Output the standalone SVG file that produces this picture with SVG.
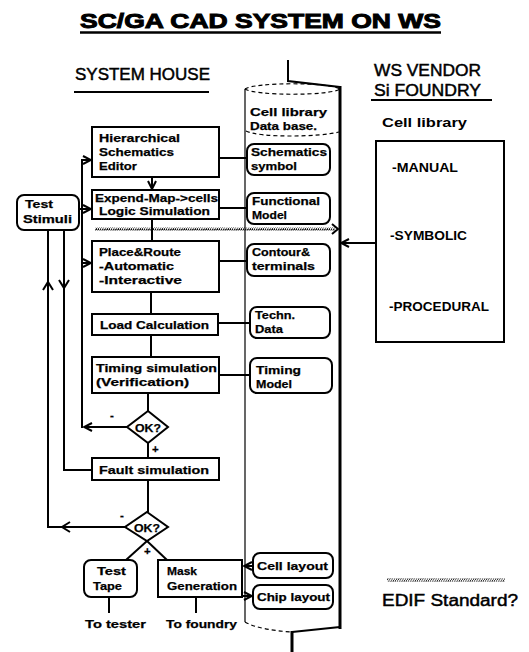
<svg xmlns="http://www.w3.org/2000/svg" width="529" height="652" viewBox="0 0 529 652">
<style>
.box{fill:#fff;stroke:#000;stroke-width:2}
.rbox{fill:#fff;stroke:#000;stroke-width:2}
.ln{fill:none;stroke:#000;stroke-width:2}
.thin{fill:none;stroke:#000;stroke-width:1.2}
.t{font-family:"Liberation Sans",Arial,sans-serif;font-weight:bold;font-size:11.5px;fill:#000;stroke:#000;stroke-width:0.25}
.h{font-family:"Liberation Sans",Arial,sans-serif;font-size:16px;fill:#000;stroke:#000;stroke-width:0.45}
.r{font-family:"Liberation Sans",Arial,sans-serif;font-weight:bold;font-size:13.5px;fill:#000}
</style>
<defs>
<marker id="arr" viewBox="0 0 10 10" refX="9" refY="5" markerWidth="10" markerHeight="10" markerUnits="userSpaceOnUse" orient="auto">
<path d="M1,1 L9,5 L1,9" fill="none" stroke="#000" stroke-width="2"/>
</marker>
<pattern id="hatch" patternUnits="userSpaceOnUse" width="2.2" height="4">
<path d="M-0.5,4.5 L2.7,-0.5" stroke="#000" stroke-width="1"/>
</pattern>
</defs>

<g id="title">
<text x="80" y="28" font-family="'Liberation Sans',Arial,sans-serif" font-weight="bold" font-size="21" textLength="361" lengthAdjust="spacingAndGlyphs" stroke="#000" stroke-width="1">SC/GA CAD SYSTEM ON WS</text>
<line x1="80" y1="32.5" x2="441" y2="32.5" stroke="#000" stroke-width="2.5"/>
</g>

<g id="system-house">
<text class="h" x="75" y="80" textLength="135" lengthAdjust="spacingAndGlyphs">SYSTEM HOUSE</text>
<line x1="74" y1="92" x2="209" y2="92" stroke="#000" stroke-width="2"/>
</g>

<g id="ws-vendor">
<text class="h" x="374" y="76" font-size="17" textLength="107" lengthAdjust="spacingAndGlyphs">WS VENDOR</text>
<text class="h" x="374" y="96" font-size="17" textLength="107" lengthAdjust="spacingAndGlyphs">Si FOUNDRY</text>
<line x1="371" y1="100" x2="492" y2="100" stroke="#000" stroke-width="2"/>
</g>

<g id="cylinder">
<path d="M288,60 V81 L340,87" class="ln" stroke-width="3"/>
<path d="M245,89 C255,82 330,82 340,89" class="thin" stroke-dasharray="4 3"/>
<path d="M245,89 C255,96 330,96 340,89" class="thin" stroke-dasharray="4 3"/>
<line x1="245" y1="89" x2="245" y2="622" class="thin"/>
<line x1="340" y1="86" x2="340" y2="629" stroke="#000" stroke-width="3"/>
<path d="M246,131 C260,138 320,137 339,132" class="thin" stroke-dasharray="4 3"/>
<path d="M245,622 C255,628 275,631 292,632" class="thin" stroke-dasharray="4 3"/>
<path d="M292,632 L340,627" class="ln" stroke-width="2"/>
<line x1="292" y1="631" x2="292" y2="652" stroke="#000" stroke-width="3"/>
<text class="t" x="250" y="116" font-size="11" textLength="77" lengthAdjust="spacingAndGlyphs">Cell library</text>
<text class="t" x="250" y="130" font-size="11" textLength="67" lengthAdjust="spacingAndGlyphs">Data base.</text>
</g>

<g id="schematics-symbol">
<rect class="rbox" x="247" y="144" width="83" height="31" rx="7"/>
<text class="t" x="251" y="156" textLength="76" lengthAdjust="spacingAndGlyphs">Schematics</text>
<text class="t" x="251" y="170" textLength="46" lengthAdjust="spacingAndGlyphs">symbol</text>
</g>
<g id="functional-model">
<rect class="rbox" x="247" y="193" width="83" height="31" rx="7"/>
<text class="t" x="252" y="205" textLength="68" lengthAdjust="spacingAndGlyphs">Functional</text>
<text class="t" x="252" y="219" textLength="35" lengthAdjust="spacingAndGlyphs">Model</text>
</g>
<g id="contour-terminals">
<rect class="rbox" x="247" y="244" width="83" height="32" rx="7"/>
<text class="t" x="252" y="256" textLength="58" lengthAdjust="spacingAndGlyphs">Contour&amp;</text>
<text class="t" x="252" y="270" textLength="63" lengthAdjust="spacingAndGlyphs">terminals</text>
</g>
<g id="techn-data">
<rect class="rbox" x="250" y="307" width="80" height="31" rx="7"/>
<text class="t" x="255" y="319" textLength="40" lengthAdjust="spacingAndGlyphs">Techn.</text>
<text class="t" x="255" y="333" textLength="28" lengthAdjust="spacingAndGlyphs">Data</text>
</g>
<g id="timing-model">
<rect class="rbox" x="250" y="358" width="82" height="35" rx="7"/>
<text class="t" x="256" y="374" textLength="45" lengthAdjust="spacingAndGlyphs">Timing</text>
<text class="t" x="256" y="388" textLength="36" lengthAdjust="spacingAndGlyphs">Model</text>
</g>
<g id="cell-layout">
<rect class="rbox" x="253" y="553" width="80" height="25" rx="7"/>
<text class="t" x="257" y="570" textLength="71" lengthAdjust="spacingAndGlyphs">Cell layout</text>
</g>
<g id="chip-layout">
<rect class="rbox" x="253" y="585" width="80" height="24" rx="7"/>
<text class="t" x="257" y="601" textLength="73" lengthAdjust="spacingAndGlyphs">Chip layout</text>
</g>

<g id="vendor-cell-library">
<text class="r" x="382" y="127" textLength="85" lengthAdjust="spacingAndGlyphs">Cell library</text>
<rect class="box" x="376" y="141" width="128" height="201"/>
<text class="r" x="392" y="172" textLength="66" lengthAdjust="spacingAndGlyphs">-MANUAL</text>
<text class="r" x="390" y="240" textLength="77" lengthAdjust="spacingAndGlyphs">-SYMBOLIC</text>
<text class="r" x="389" y="311" textLength="100" lengthAdjust="spacingAndGlyphs">-PROCEDURAL</text>
</g>

<g id="hierarchical-editor">
<rect class="box" x="92" y="127" width="127" height="50"/>
<text class="t" x="99" y="142" textLength="81" lengthAdjust="spacingAndGlyphs">Hierarchical</text>
<text class="t" x="99" y="156" textLength="75" lengthAdjust="spacingAndGlyphs">Schematics</text>
<text class="t" x="99" y="170" textLength="38" lengthAdjust="spacingAndGlyphs">Editor</text>
</g>
<g id="logic-simulation">
<rect class="box" x="92" y="190" width="127" height="29"/>
<text class="t" x="95" y="202" textLength="123" lengthAdjust="spacingAndGlyphs">Expend-Map-&gt;cells</text>
<text class="t" x="99" y="215" textLength="111" lengthAdjust="spacingAndGlyphs">Logic Simulation</text>
</g>
<g id="test-stimuli">
<rect class="rbox" x="17" y="195" width="62" height="35" rx="7"/>
<text class="t" x="25" y="208" textLength="28" lengthAdjust="spacingAndGlyphs">Test</text>
<text class="t" x="23" y="223" textLength="49" lengthAdjust="spacingAndGlyphs">Stimuli</text>
</g>
<g id="place-route">
<rect class="box" x="92" y="241" width="127" height="51"/>
<text class="t" x="99" y="256" textLength="82" lengthAdjust="spacingAndGlyphs">Place&amp;Route</text>
<text class="t" x="99" y="270" textLength="75" lengthAdjust="spacingAndGlyphs">-Automatic</text>
<text class="t" x="99" y="284" textLength="83" lengthAdjust="spacingAndGlyphs">-Interactive</text>
</g>
<g id="load-calculation">
<rect class="box" x="92" y="314" width="126" height="21"/>
<text class="t" x="100" y="329" textLength="109" lengthAdjust="spacingAndGlyphs">Load Calculation</text>
</g>
<g id="timing-simulation">
<rect class="box" x="92" y="357" width="127" height="36"/>
<text class="t" x="96" y="372" textLength="121" lengthAdjust="spacingAndGlyphs">Timing simulation</text>
<text class="t" x="96" y="386" textLength="93" lengthAdjust="spacingAndGlyphs">(Verification)</text>
</g>
<g id="ok1">
<polygon class="box" points="148,411 168,427 148,443 127,427" stroke-width="2.5"/>
<text class="t" x="148" y="431.5" text-anchor="middle" textLength="26" lengthAdjust="spacingAndGlyphs">OK?</text>
</g>
<g id="fault-simulation">
<rect class="box" x="92" y="458" width="127" height="22"/>
<text class="t" x="99" y="474" textLength="110" lengthAdjust="spacingAndGlyphs">Fault simulation</text>
</g>
<g id="ok2">
<polygon class="box" points="147,512 168,527 147,541 125,527" stroke-width="2.5"/>
<text class="t" x="147" y="531.5" text-anchor="middle" textLength="26" lengthAdjust="spacingAndGlyphs">OK?</text>
</g>
<g id="test-tape">
<rect class="rbox" x="84" y="560" width="53" height="37" rx="7"/>
<text class="t" x="97" y="575" textLength="29" lengthAdjust="spacingAndGlyphs">Test</text>
<text class="t" x="93" y="590" textLength="29" lengthAdjust="spacingAndGlyphs">Tape</text>
</g>
<g id="mask-generation">
<rect class="box" x="158" y="560" width="84" height="37"/>
<text class="t" x="167" y="575" textLength="30" lengthAdjust="spacingAndGlyphs">Mask</text>
<text class="t" x="167" y="590" textLength="70" lengthAdjust="spacingAndGlyphs">Generation</text>
</g>
<g id="outputs">
<text class="t" x="85" y="628" textLength="61" lengthAdjust="spacingAndGlyphs">To tester</text>
<text class="t" x="166" y="628" textLength="71" lengthAdjust="spacingAndGlyphs">To foundry</text>
</g>
<g id="legend">
<rect x="387" y="578.5" width="118" height="3" fill="url(#hatch)"/>
<text class="h" x="382" y="606" font-size="15.5" textLength="136" lengthAdjust="spacingAndGlyphs">EDIF Standard?</text>
</g>

<g id="connectors">
<line class="ln" x1="152" y1="177" x2="152" y2="189" marker-end="url(#arr)"/>
<line class="ln" x1="152" y1="219" x2="152" y2="241"/>
<line class="ln" x1="151" y1="292" x2="151" y2="314"/>
<line class="ln" x1="151" y1="335" x2="151" y2="357"/>
<line class="ln" x1="148" y1="393" x2="148" y2="411"/>
<line class="ln" x1="148" y1="443" x2="148" y2="458"/>
<line class="ln" x1="148" y1="480" x2="148" y2="512"/>
<line class="ln" x1="127" y1="427" x2="84" y2="427" marker-end="url(#arr)"/>
<path class="ln" d="M82,428 V160 H91" marker-end="url(#arr)"/>
<line class="ln" x1="82" y1="263" x2="91" y2="263" marker-end="url(#arr)"/>
<line class="ln" x1="79" y1="209" x2="91" y2="209" marker-end="url(#arr)"/>
<path class="ln" d="M64,230 V470 H92"/>
<path class="ln" d="M59,280 L64,288 L69,280"/>
<path class="ln" d="M125,527 H48 V230"/>
<path class="ln" d="M70,522 L62,527 L70,532"/>
<path class="ln" d="M43,290 L48,282 L53,290"/>
<line class="ln" x1="147" y1="541" x2="126" y2="560"/>
<line class="ln" x1="147" y1="541" x2="167" y2="560"/>
<line class="ln" x1="109" y1="597" x2="109" y2="613"/>
<line class="ln" x1="196" y1="597" x2="196" y2="613"/>
<line class="ln" x1="253" y1="566" x2="244" y2="566" marker-end="url(#arr)"/>
<line class="ln" x1="242" y1="596" x2="252" y2="596" marker-end="url(#arr)"/>
<line class="ln" x1="219" y1="158" x2="247" y2="158"/>
<line class="ln" x1="219" y1="208" x2="247" y2="208"/>
<line class="ln" x1="219" y1="261" x2="247" y2="261"/>
<line class="ln" x1="218" y1="323" x2="250" y2="323"/>
<line class="ln" x1="219" y1="375" x2="250" y2="375"/>
<line class="ln" x1="376" y1="243" x2="341" y2="243" marker-end="url(#arr)"/>
<rect x="95" y="227.5" width="240" height="3" fill="url(#hatch)"/>
<path class="ln" d="M332,224 L338,229 L332,234"/>
<text class="t" x="110" y="419" font-size="12">-</text>
<text class="t" x="152" y="453" font-size="11">+</text>
<text class="t" x="120" y="519" font-size="12">-</text>
<text class="t" x="144" y="555" font-size="11">+</text>
</g>
</svg>
